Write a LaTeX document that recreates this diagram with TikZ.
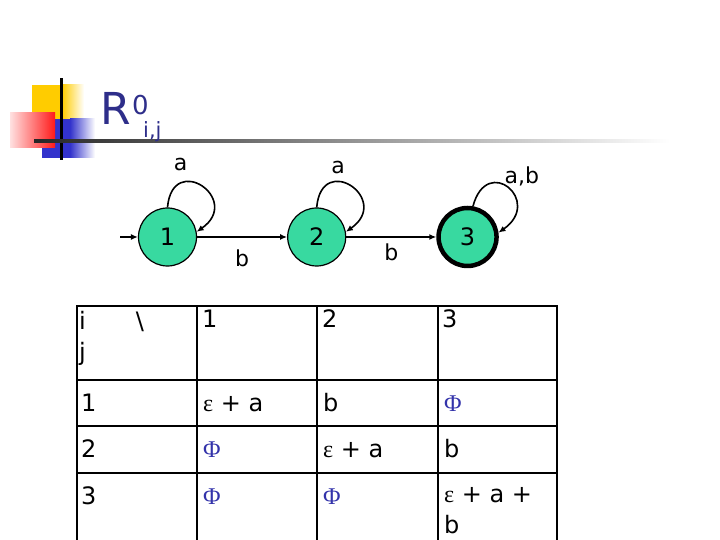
\documentclass[tikz,border=0pt]{standalone}
\usepackage{fontspec}
\setmainfont{DejaVu Sans}
\newfontfamily\symbfont{Liberation Serif}
\usetikzlibrary{arrows.meta,positioning}
\definecolor{autFill}{HTML}{38D9A0}
\definecolor{titleBlue}{HTML}{2E2E8A}
\definecolor{phiBlue}{HTML}{3333AA}
\definecolor{logoYellow}{HTML}{FFCC00}
\definecolor{logoBlue}{HTML}{3333CC}
\definecolor{logoRed}{HTML}{FF1A1A}
\newcommand{\phicell}{{\symbfont\textcolor{phiBlue}{Φ}}}
\newcommand{\epscell}{{\symbfont ε}}

\begin{document}
\begin{tikzpicture}[
  x=1pt, y=1pt,
  >={Latex[length=7pt,width=6pt]},
  node distance=90pt,
  state/.style={circle, draw=black, line width=1.2pt, fill=autFill,
                minimum size=58pt, inner sep=0pt,
                font=\fontsize{24}{24}\selectfont},
  accepting/.style={line width=4.5pt},
  edgelbl/.style={font=\fontsize{22}{22}\selectfont, inner sep=2pt},
  trans/.style={->, line width=1.6pt},
  tabline/.style={line width=2.6pt, line cap=rect},
  cell/.style={anchor=base west, inner sep=0pt, align=left,
               font=\fontsize{24}{31}\selectfont},
  titletxt/.style={anchor=base west, inner sep=0pt, text=titleBlue}
]
\useasboundingbox (0,0) rectangle (720,540);

% logo
\fill[logoYellow] (32,418) rectangle (62,455);
\shade[left color=logoYellow, right color=white] (62,418) rectangle (84,455);
\fill[logoBlue] (42,382) rectangle (70,421);
\shade[left color=logoBlue, right color=white] (70,382) rectangle (95,421);
\shade[left color=red!12, right color=logoRed] (10,392) rectangle (55,427);
\fill[black] (60,380) rectangle (63,462);
\shade[left color=black!85, right color=white] (34,397.5) rectangle (670,400.5);

% title
\node[titletxt, font=\fontsize{44}{44}\selectfont] (rsym) at (100,415) {R};
\node[titletxt, font=\fontsize{26}{26}\selectfont] (rsup) at (132,425) {0};
\node[titletxt, font=\fontsize{21}{21}\selectfont] (rsub) at (143,402) {i,j};

% automaton
\node[state] (s1) at (167.5,303) {1};
\node[state, right=of s1] (s2) {2};
\node[state, accepting, right=of s2] (s3) {3};
\coordinate (init) at (120,303);

\draw[trans] (init) -- (s1);
\draw[trans] (s1) -- node[edgelbl, below=10pt] {b} (s2);
\draw[trans] (s2) -- node[edgelbl, below=4pt] {b} (s3);
\draw[trans] (s1.north) to[out=85,in=35,looseness=3.8]
  node[edgelbl, pos=0.25, above=9pt] {a} (s1.10);
\draw[trans] (s2.north) to[out=85,in=35,looseness=3.8]
  node[edgelbl, pos=0.35, above=5pt] {a} (s2.10);
\draw[trans] (s3.80) to[out=75,in=35,looseness=3.8]
  node[edgelbl, pos=0.5, above right=-1pt and -6pt] {a,b} (s3.8);

% table
\draw[tabline] (77,0) -- (77,234) -- (557,234) -- (557,0);
\draw[tabline] (197,0) -- (197,234);
\draw[tabline] (317,0) -- (317,234);
\draw[tabline] (438,0) -- (438,234);
\draw[tabline] (77,160) -- (557,160);
\draw[tabline] (77,114) -- (557,114);
\draw[tabline] (77,67) -- (557,67);

\node[cell] (c00) at (79,179) {i\hspace{50pt}\textbackslash\\j};
\node[cell] (c01) at (202,212) {1};
\node[cell] (c02) at (322,212) {2};
\node[cell] (c03) at (442,212) {3};

\node[cell] (c10) at (81,128) {1};
\node[cell] (c11) at (203,128) {\epscell{} + a};
\node[cell] (c12) at (323,128) {b};
\node[cell] (c13) at (444,128) {\phicell};

\node[cell] (c20) at (81,82) {2};
\node[cell] (c21) at (203,82) {\phicell};
\node[cell] (c22) at (323,82) {\epscell{} + a};
\node[cell] (c23) at (444,82) {b};

\node[cell] (c30) at (81,35) {3};
\node[cell] (c31) at (203,35) {\phicell};
\node[cell] (c32) at (323,35) {\phicell};
\node[cell] (c33) at (444,6) {\epscell{} + a +\\b};
\end{tikzpicture}
\end{document}
